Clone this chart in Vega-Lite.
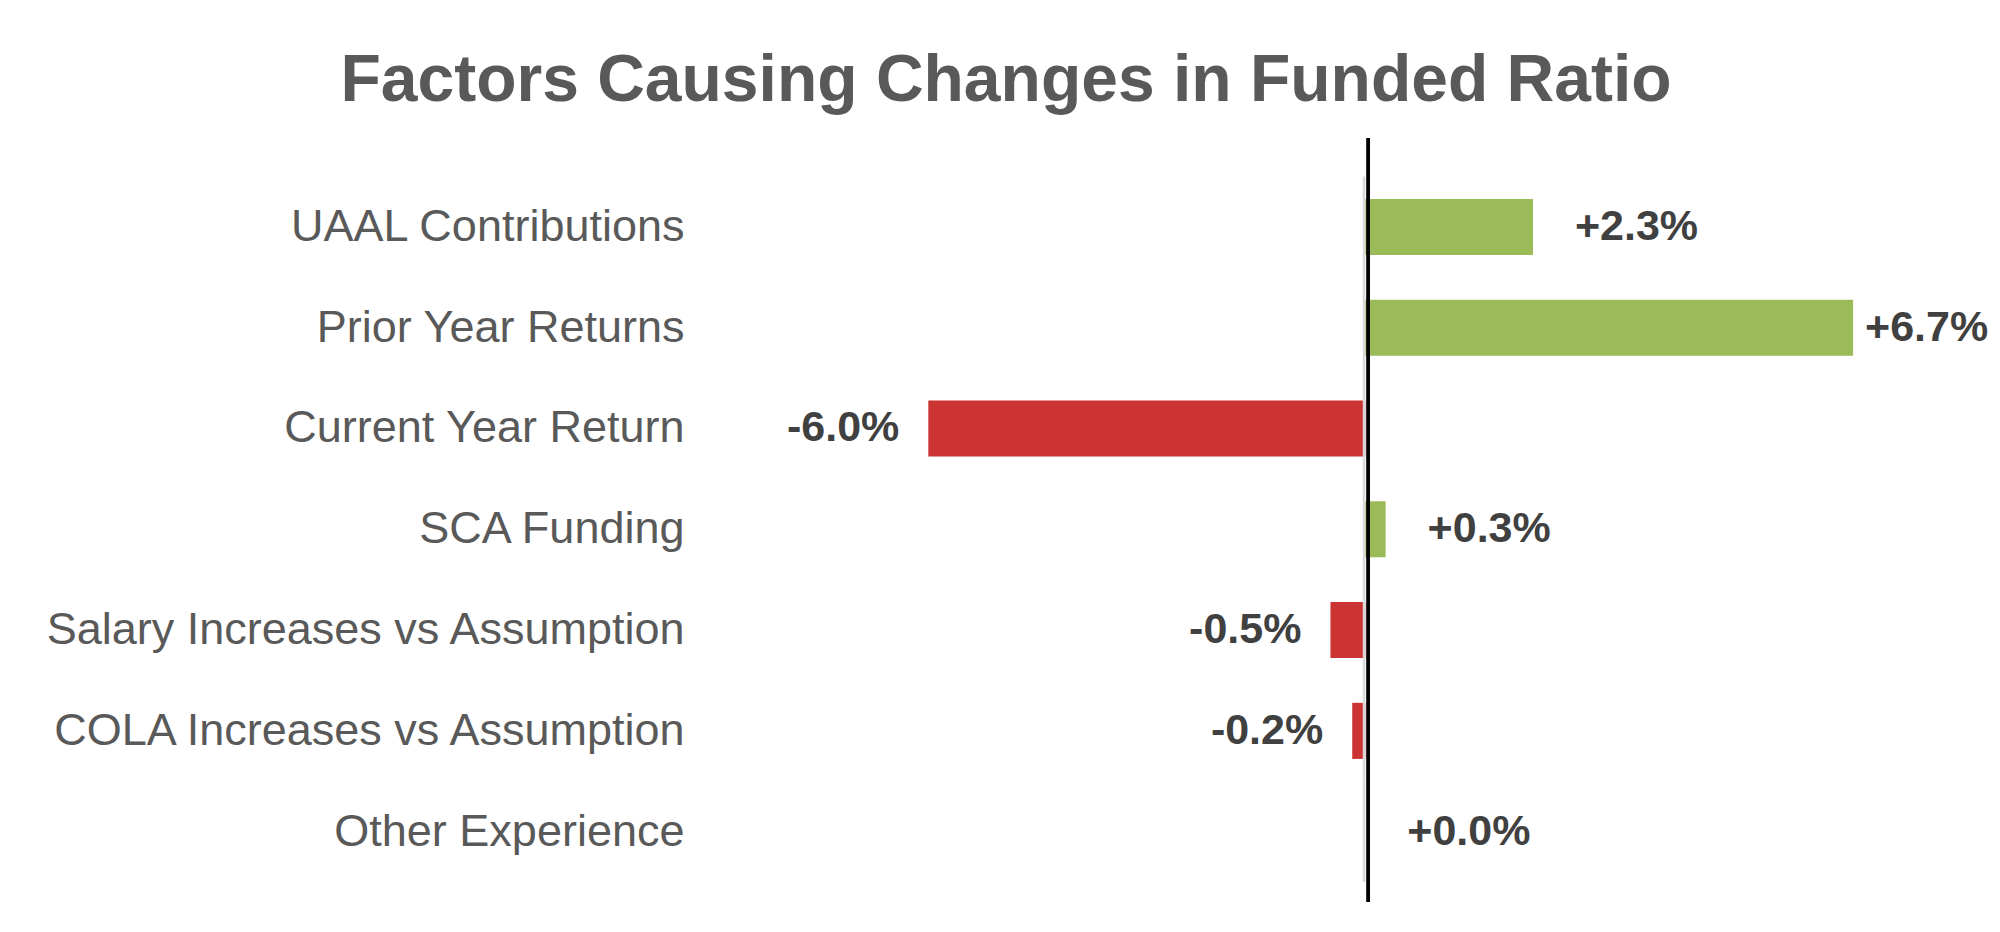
{
  "$schema": "https://vega.github.io/schema/vega-lite/v6.json",
  "width": 1234,
  "height": 764,
  "autosize": {"type": "none"},
  "padding": {"left": 712, "top": 138, "right": 54, "bottom": 30},
  "background": "white",
  "title": {
    "text": "Factors Causing Changes in Funded Ratio",
    "font": "Liberation Sans",
    "fontSize": 66,
    "fontWeight": "bold",
    "color": "#595959",
    "anchor": "middle",
    "dx": -323,
    "dy": 66,
    "baseline": "alphabetic",
    "offset": 36
  },
  "config": {"view": {"stroke": null}},
  "data": {
    "values": [
      {"factor": "UAAL Contributions", "value": 2.31, "label": "+2.3%"},
      {"factor": "Prior Year Returns", "value": 6.72, "label": "+6.7%"},
      {"factor": "Current Year Return", "value": -6.02, "label": "-6.0%"},
      {"factor": "SCA Funding", "value": 0.28, "label": "+0.3%"},
      {"factor": "Salary Increases vs Assumption", "value": -0.48, "label": "-0.5%"},
      {"factor": "COLA Increases vs Assumption", "value": -0.18, "label": "-0.2%"},
      {"factor": "Other Experience", "value": 0.0, "label": "+0.0%"}
    ]
  },
  "resolve": {"scale": {"y": "independent"}},
  "layer": [
    {
      "layer": [
        {
          "mark": {"type": "bar"},
          "encoding": {
            "color": {"condition": {"test": "datum.value < 0", "value": "#CC3333"}, "value": "#9BBB59"}
          }
        },
        {
          "transform": [{"filter": "datum.value >= 0 && datum.value < 5"}],
          "mark": {"type": "text", "align": "left", "baseline": "middle", "dx": 42, "font": "Liberation Sans", "fontSize": 43, "fontWeight": "bold", "color": "#404040"},
          "encoding": {"text": {"field": "label"}}
        },
        {
          "transform": [{"filter": "datum.value >= 5"}],
          "mark": {"type": "text", "align": "left", "baseline": "middle", "dx": 12, "font": "Liberation Sans", "fontSize": 43, "fontWeight": "bold", "color": "#404040"},
          "encoding": {"text": {"field": "label"}}
        },
        {
          "transform": [{"filter": "datum.value < 0"}],
          "mark": {"type": "text", "align": "right", "baseline": "middle", "dx": -29, "font": "Liberation Sans", "fontSize": 43, "fontWeight": "bold", "color": "#404040"},
          "encoding": {"text": {"field": "label"}}
        }
      ],
      "encoding": {
        "y": {
          "field": "factor",
          "type": "nominal",
          "sort": null,
          "scale": {"paddingInner": 0.444, "paddingOuter": 0.512, "align": 0.59},
          "axis": {
            "title": null,
            "domain": false,
            "ticks": false,
            "tickSize": 0,
            "grid": false,
            "labelFont": "Liberation Sans",
            "labelFontSize": 45,
            "labelColor": "#595959",
            "labelPadding": 28,
            "labelLimit": 0
          }
        },
        "x": {
          "field": "value",
          "type": "quantitative",
          "scale": {"domain": [-9, 8], "nice": false},
          "axis": null
        }
      }
    },
    {
      "mark": {"type": "bar", "color": "#D9D9D9"},
      "encoding": {
        "y": {
          "field": "factor",
          "type": "nominal",
          "sort": null,
          "scale": {"paddingInner": 0, "paddingOuter": 0.29, "align": 0.66},
          "axis": null
        },
        "x": {"datum": -0.035, "type": "quantitative"},
        "x2": {"datum": 0}
      }
    },
    {
      "mark": {"type": "rule", "color": "#000000", "strokeWidth": 3, "xOffset": 3},
      "encoding": {"x": {"datum": 0, "type": "quantitative"}}
    }
  ]
}
